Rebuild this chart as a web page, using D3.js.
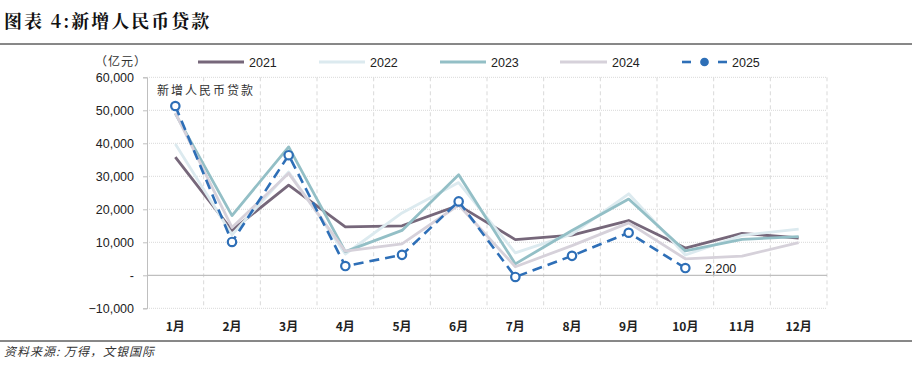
<!DOCTYPE html>
<html><head><meta charset="utf-8">
<script src="https://cdn.jsdelivr.net/npm/d3@7/dist/d3.min.js"></script>
<style>
body{margin:0;background:#fff;}
svg{display:block;}
text{font-family:"Noto Sans CJK SC","Noto Sans",sans-serif;}
</style></head>
<body>
<svg id="c" width="912" height="369"></svg>
<script>
const months = ["1月","2月","3月","4月","5月","6月","7月","8月","9月","10月","11月","12月"];
const yTicks = [-10000,0,10000,20000,30000,40000,50000,60000];
const s2021 = [35800,13600,27300,14700,15000,21200,10800,12200,16600,8262,12700,11300];
const s2022 = [39800,12300,31300,6454,18900,28100,6790,12500,24700,6152,12100,14000];
const s2023 = [49000,18100,38900,7188,13600,30500,3459,13600,23100,7384,10900,11700];
const s2024 = [49200,14500,30900,7300,9500,21300,2600,9000,15900,5000,5800,9900];
const s2025 = [51300,10100,36400,2800,6200,22400,-500,5900,12900,2200];
const seriesNames = ["2021","2022","2023","2024","2025"];

const colors = {"2021":"#76677A","2022":"#DCEAEF","2023":"#93BFC6","2024":"#D6D1DA","2025":"#2E6FB7"};
const series = [
  {name:"2021",values:s2021},
  {name:"2022",values:s2022},
  {name:"2023",values:s2023},
  {name:"2024",values:s2024},
  {name:"2025",values:s2025}
];

const svg = d3.select("#c");
const L=147,R=827,T=77.3,B=308.3;
const x = d3.scaleBand().domain(months).range([L,R]);
const y = d3.scaleLinear().domain([-10000,60000]).range([B,T]);

// title
svg.append("text").attr("x",4).attr("y",28).attr("font-size",18).attr("font-weight","bold")
  .attr("fill","#111").style("letter-spacing","2px")
  .style("font-family","'Noto Serif CJK SC','Noto Sans CJK SC',serif").text("图表 4:新增人民币贷款");
svg.append("line").attr("x1",0).attr("x2",912).attr("y1",44).attr("y2",44).attr("stroke","#111").attr("stroke-width",1);
svg.append("line").attr("x1",0).attr("x2",912).attr("y1",341).attr("y2",341).attr("stroke","#111").attr("stroke-width",1);

// horizontal grid
svg.append("g").selectAll("line").data(yTicks.filter(d=>d!==0)).join("line")
  .attr("x1",L).attr("x2",R).attr("y1",d=>y(d)).attr("y2",d=>y(d))
  .attr("stroke","#d9d9d9").attr("stroke-width",1).attr("stroke-dasharray","1,1");
// vertical grid at band boundaries
const bounds = months.slice(1).map(m=>x(m)).concat([R]);
svg.append("g").selectAll("line").data(bounds).join("line")
  .attr("x1",d=>d).attr("x2",d=>d).attr("y1",T).attr("y2",B)
  .attr("stroke","#d9d9d9").attr("stroke-width",1).attr("stroke-dasharray","4,3");

// y axis
const yAxis = d3.axisLeft(y).tickValues(yTicks).tickSize(4).tickPadding(9)
  .tickFormat(d=>d===0?"-":d3.format(",")(d));
const ga = svg.append("g").attr("transform",`translate(${L},0)`).call(yAxis);
ga.select(".domain").attr("stroke","#bfbfbf");
ga.selectAll(".tick line").attr("stroke","#bfbfbf");
ga.selectAll(".tick text").attr("font-size",12.5).attr("fill","#222").style("font-family","'Liberation Sans',Arial,sans-serif");
// x axis (zero line)
svg.append("line").attr("x1",L).attr("x2",R).attr("y1",y(0)).attr("y2",y(0)).attr("stroke","#bfbfbf").attr("stroke-width",1.3);
// month labels
svg.append("g").selectAll("text").data(months).join("text")
  .attr("x",d=>x(d)+x.bandwidth()/2).attr("y",331).attr("text-anchor","middle")
  .attr("font-size",12).attr("font-weight","bold").attr("fill","#222").text(d=>d);

// lines
const line = d3.line().x((d,i)=>x(months[i])+x.bandwidth()/2).y(d=>y(d));
series.forEach(s=>{
  const p = svg.append("path").datum(s.values).attr("d",line).attr("fill","none")
    .attr("stroke",colors[s.name]).attr("stroke-width",s.name==="2025"?2.6:2.8)
    .attr("stroke-linejoin","round");
  if(s.name==="2025") p.attr("stroke-dasharray","10,6");
});
// 2025 markers
svg.append("g").selectAll("circle").data(s2025).join("circle")
  .attr("cx",(d,i)=>x(months[i])+x.bandwidth()/2).attr("cy",d=>y(d)).attr("r",4.2)
  .attr("fill","#fff").attr("stroke",colors["2025"]).attr("stroke-width",2.2);

// labels
svg.append("text").attr("x",705).attr("y",y(2200)+5).attr("font-size",12.5).attr("fill","#222")
  .style("font-family","'Liberation Sans',Arial,sans-serif").text(d3.format(",")(s2025[9]));
svg.append("text").attr("x",157).attr("y",95).attr("font-size",12).attr("fill","#333")
  .style("letter-spacing","2px").text("新增人民币贷款");
svg.append("text").attr("x",95).attr("y",66).attr("font-size",12).attr("fill","#333")
  .style("letter-spacing","1px").text("（亿元）");

// legend
const lg = [
  {name:"2021",x1:198,x2:244,tx:249},
  {name:"2022",x1:319,x2:365,tx:370},
  {name:"2023",x1:440,x2:486,tx:491},
  {name:"2024",x1:560,x2:607,tx:612},
  {name:"2025",x1:682,x2:727,tx:732}
];
lg.forEach(l=>{
  if(l.name==="2025"){
    svg.append("line").attr("x1",l.x1).attr("x2",l.x1+9).attr("y1",62).attr("y2",62).attr("stroke",colors[l.name]).attr("stroke-width",2.6);
    svg.append("line").attr("x1",l.x2-9).attr("x2",l.x2).attr("y1",62).attr("y2",62).attr("stroke",colors[l.name]).attr("stroke-width",2.6);
    svg.append("circle").attr("cx",(l.x1+l.x2)/2).attr("cy",62).attr("r",3.6).attr("fill",colors[l.name]).attr("stroke",colors[l.name]).attr("stroke-width",1.5);
  } else {
    svg.append("line").attr("x1",l.x1).attr("x2",l.x2).attr("y1",62).attr("y2",62).attr("stroke",colors[l.name]).attr("stroke-width",2.8);
  }
  svg.append("text").attr("x",l.tx).attr("y",66.5).attr("font-size",12.5).attr("fill","#222")
    .style("font-family","'Liberation Sans',Arial,sans-serif").text(l.name);
});

// source
svg.append("text").attr("x",4).attr("y",356).attr("font-size",12).attr("fill","#333")
  .attr("font-style","italic").style("letter-spacing","1px").text("资料来源: 万得，文银国际");
</script>
</body></html>
